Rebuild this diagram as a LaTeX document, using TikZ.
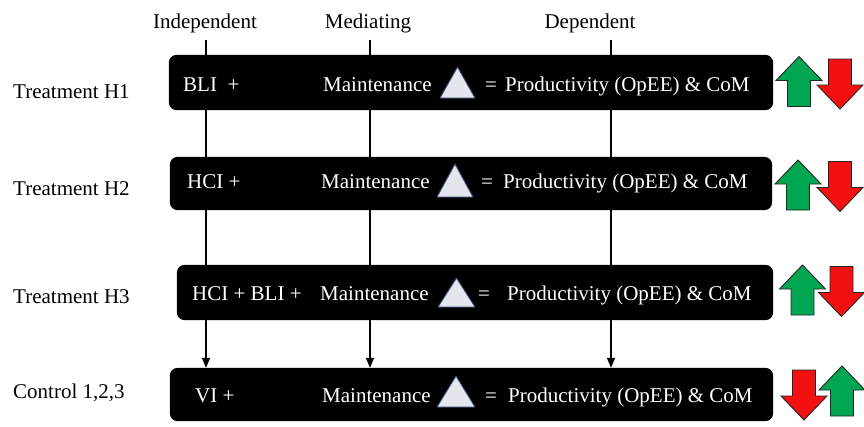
\documentclass[tikz,border=0pt]{standalone}
\usepackage{fontspec}
\setmainfont{Liberation Serif}
\usetikzlibrary{arrows.meta}

\definecolor{upgreen}{HTML}{00A651}
\definecolor{downred}{HTML}{F21010}
\definecolor{trifill}{HTML}{E4E6EE}
\definecolor{triedge}{HTML}{3A4A78}

\begin{document}
\begin{tikzpicture}[x=1pt,y=-1pt,
  every node/.style={inner sep=0pt, font=\fontsize{21}{25}\selectfont},
  rowbox/.style={fill=black, rounded corners=8pt},
  intext/.style={anchor=base west, text=white},
  rowlabel/.style={anchor=base west, text=black},
  header/.style={anchor=base, text=black},
  flow/.style={line width=1.4pt, -{Triangle[width=8pt,length=10pt]}},
  delta/.style={fill=trifill, draw=triedge, line width=0.9pt, line join=round},
  blockarrow/.style={draw=black!85, line width=0.9pt, line join=miter},
  uparrow/.pic={\path[blockarrow, fill=upgreen]
      (0,-25) -- (23,-1) -- (11.5,-1) -- (11.5,25) -- (-11.5,25)
      -- (-11.5,-1) -- (-23,-1) -- cycle;},
  downarrow/.pic={\path[blockarrow, fill=downred]
      (0,25) -- (23,1) -- (11.5,1) -- (11.5,-25) -- (-11.5,-25)
      -- (-11.5,1) -- (-23,1) -- cycle;}
]
\useasboundingbox (0,0) rectangle (864,426);

% column headers and the tops of their lines
\node[header] (hind) at (205,28) {Independent};
\node[header] (hmed) at (368,28) {Mediating};
\node[header] (hdep) at (590,28) {Dependent};
\coordinate (cind) at (206,40);
\coordinate (cmed) at (370,40);
\coordinate (cdep) at (611,40);

% row box outlines (named, filled again after the lines)
\node[minimum width=604, minimum height=55] (b1) at (471,82.5) {};
\node[minimum width=602, minimum height=53] (b2) at (471,183.5) {};
\node[minimum width=596, minimum height=55] (b3) at (475,292.5) {};
\node[minimum width=603, minimum height=53] (b4) at (471.5,394.5) {};

% column lines running down to the control row
\draw[flow] (cind) -- (cind |- b4.north);
\draw[flow] (cmed) -- (cmed |- b4.north);
\draw[flow] (cdep) -- (cdep |- b4.north);

% black row boxes over the lines
\fill[rowbox] (b1.south west) rectangle (b1.north east);
\fill[rowbox] (b2.south west) rectangle (b2.north east);
\fill[rowbox] (b3.south west) rectangle (b3.north east);
\fill[rowbox] (b4.south west) rectangle (b4.north east);

% row labels
\node[rowlabel] (l1) at (13,98)  {Treatment H1};
\node[rowlabel] (l2) at (13,195) {Treatment H2};
\node[rowlabel] (l3) at (13,303) {Treatment H3};
\node[rowlabel] (l4) at (13,398) {Control 1,2,3};

% row 1
\node[intext] (r1a) at (183,91) {BLI\ \ +};
\node[intext] (r1b) at (323,91) {Maintenance};
\path[delta] (440,98) -- (457.5,67) -- (475,98) -- cycle;
\node[intext] (r1c) at (485,91) {=};
\node[intext] (r1d) at (505,91) {Productivity (OpEE) \& CoM};

% row 2
\node[intext] (r2a) at (187,188) {HCI +};
\node[intext] (r2b) at (321,188) {Maintenance};
\path[delta] (437,197) -- (455,164) -- (473,197) -- cycle;
\node[intext] (r2c) at (481,188) {=};
\node[intext] (r2d) at (503,188) {Productivity (OpEE) \& CoM};

% row 3
\node[intext] (r3a) at (192,300) {HCI + BLI +};
\node[intext] (r3b) at (320,300) {Maintenance};
\path[delta] (438,307) -- (456.5,278) -- (475,307) -- cycle;
\node[intext] (r3c) at (478,300) {=};
\node[intext] (r3d) at (507,300) {Productivity (OpEE) \& CoM};

% row 4
\node[intext] (r4a) at (195,402) {VI +};
\node[intext] (r4b) at (322,402) {Maintenance};
\path[delta] (437,407) -- (456,376) -- (475,407) -- cycle;
\node[intext] (r4c) at (485,402) {=};
\node[intext] (r4d) at (508,402) {Productivity (OpEE) \& CoM};

% direction arrows
\pic at (799,81.5) {uparrow};
\pic at (840,84) {downarrow};
\pic at (798,185) {uparrow};
\pic at (840,186.5) {downarrow};
\pic at (802.5,290) {uparrow};
\pic at (841.5,291.5) {downarrow};
\pic at (804,395) {downarrow};
\pic at (842,391) {uparrow};
\end{tikzpicture}
\end{document}
